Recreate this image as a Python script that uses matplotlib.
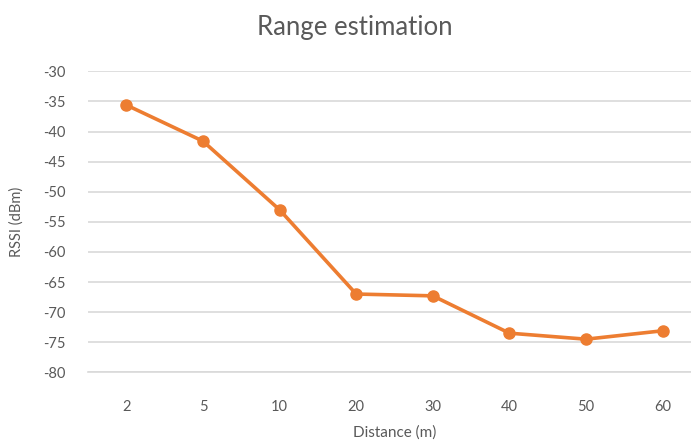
import matplotlib
matplotlib.use("Agg")
import matplotlib.pyplot as plt

distances = ["2", "5", "10", "20", "30", "40", "50", "60"]
rssi = [-35.6, -41.6, -53.0, -67.0, -67.3, -73.5, -74.5, -73.1]
y_ticks = [-80, -75, -70, -65, -60, -55, -50, -45, -40, -35, -30]

plt.rcParams["font.family"] = ["Lato", "DejaVu Sans"]

W, H = 691, 445
fig = plt.figure(figsize=(W / 100, H / 100), dpi=100)
# plot area in pixels: left 88, right 701 (runs past the image edge), top 71, bottom 372
left, right, top, bottom = 88, 701, 71.3, 372.3
ax = fig.add_axes([left / W, 1 - bottom / H, (right - left) / W, (bottom - top) / H])

x = list(range(len(distances)))
ax.plot(x, rssi, color="#ED7D31", lw=2.6, marker="o", markersize=8, zorder=3)

ax.set_xlim(-0.5, len(distances) - 0.5)
ax.set_ylim(-80, -30)
ax.set_yticks(y_ticks)
ax.set_yticklabels([str(v) for v in y_ticks])
ax.set_xticks(x)
ax.set_xticklabels(distances)

ax.grid(axis="y", color="#D9D9D9", lw=1.2)
ax.axhline(y_ticks[0], color="#D9D9D9", lw=1.2, clip_on=False, zorder=0)
ax.set_axisbelow(True)
for s in ax.spines.values():
    s.set_visible(False)
ax.tick_params(axis="both", length=0, colors="#595959", labelsize=10.5)
ax.tick_params(axis="y", pad=16)
ax.tick_params(axis="x", pad=20)

ax.set_xlabel("Distance (m)", color="#595959", fontsize=11, labelpad=8)
ax.set_ylabel("RSSI (dBm)", color="#595959", fontsize=10.5, labelpad=14)
fig.text(355 / W, 1 - 28 / H, "Range estimation", ha="center", va="center",
         color="#595959", fontsize=18.5)

fig.savefig("out.png", dpi=100)
